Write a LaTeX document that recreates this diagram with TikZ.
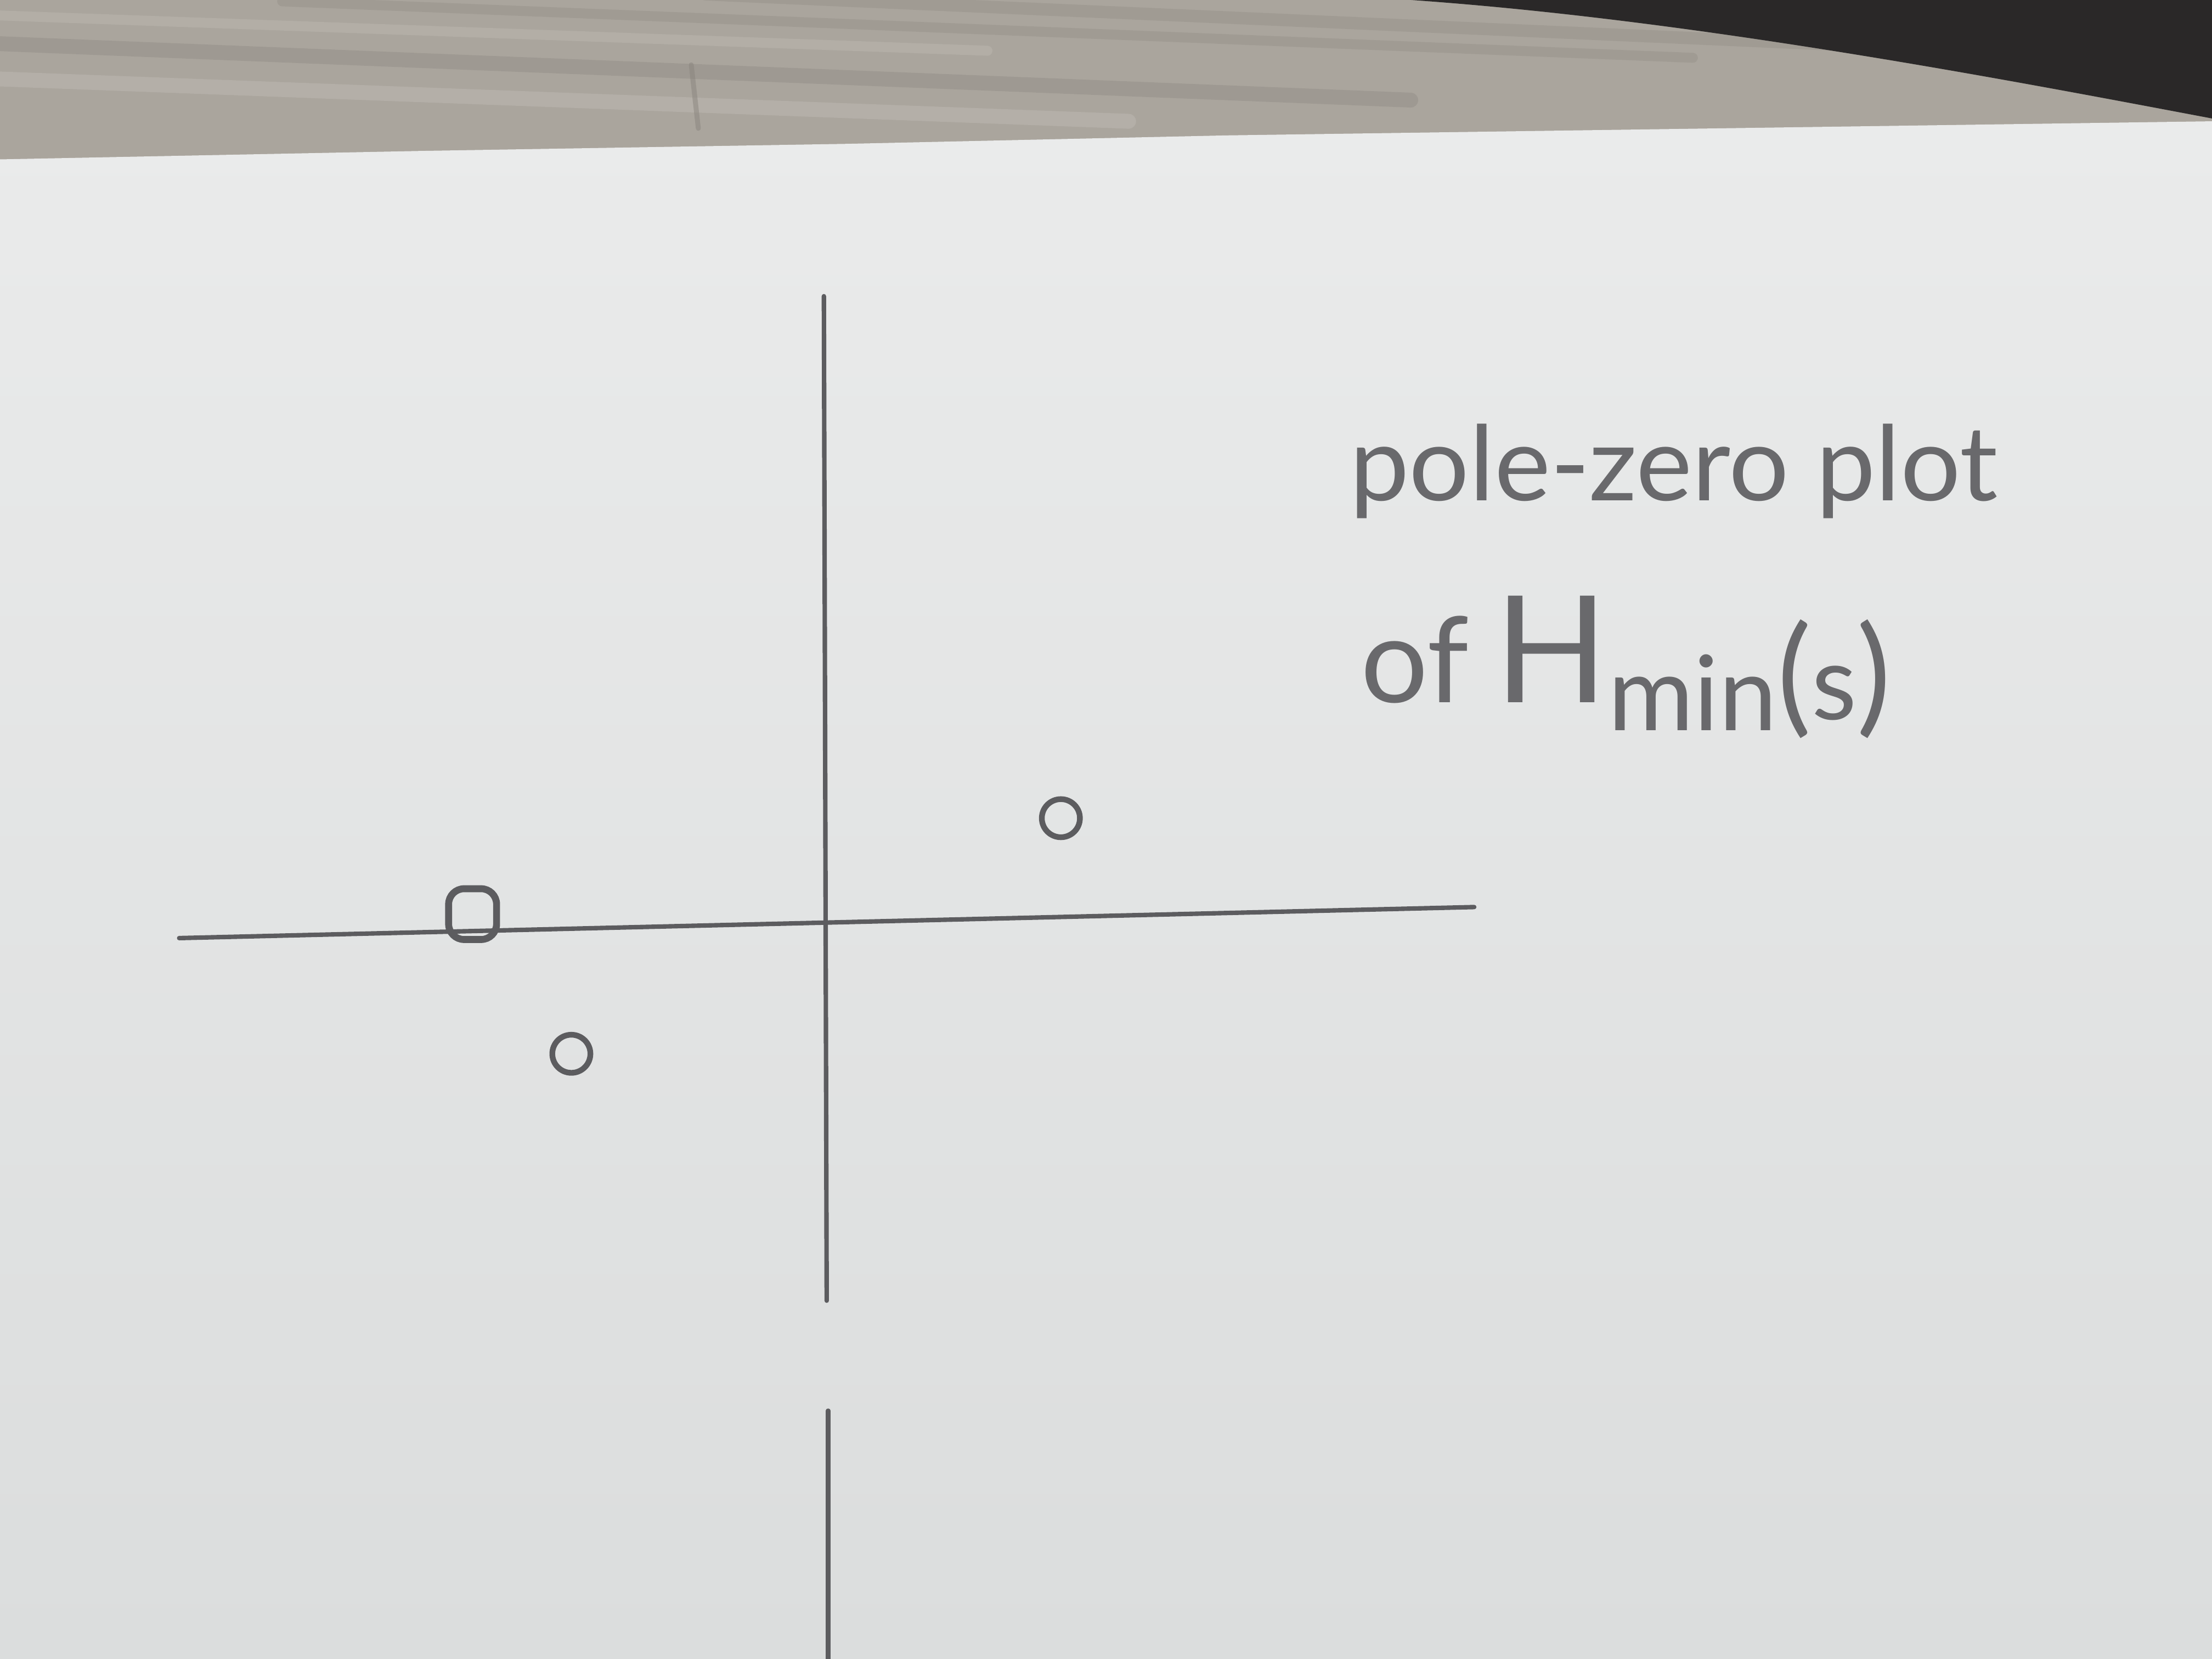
\documentclass[tikz,border=0pt]{standalone}
\usepackage{fontspec}
\newfontfamily\hand{Lato}
\definecolor{desk}{RGB}{170,165,157}
\definecolor{deskdark}{RGB}{138,133,126}
\definecolor{desklight}{RGB}{196,192,185}
\definecolor{corner}{RGB}{42,40,40}
\definecolor{paperA}{RGB}{234,235,235}
\definecolor{paperB}{RGB}{219,221,221}
\definecolor{pencil}{RGB}{92,92,95}
\definecolor{pencilt}{RGB}{105,105,108}
\begin{document}
\begin{tikzpicture}[x=1cm,y=1cm,
  axis/.style={draw=pencil,line width=0.9pt,line cap=round},
  polemark/.style={circle,draw=pencil,line width=1.15pt,inner sep=0pt,minimum size=#1},
  bigmark/.style={rectangle,rounded corners=0.11cm,draw=pencil,line width=1.4pt,inner sep=0pt,minimum width=0.34cm,minimum height=0.36cm},
  hw/.style={text=pencilt,font=\hand\fontsize{21}{25}\selectfont,inner sep=0pt,anchor=base west}]
\useasboundingbox (0,0) rectangle (15.68,11.76);
% desk
\fill[desk] (0,0) rectangle (15.68,11.76);
\begin{scope}[line cap=round]
\draw[deskdark,line width=3pt,opacity=0.35] (0,11.45) -- (10,11.05);
\draw[deskdark,line width=2pt,opacity=0.3] (2,11.75) -- (12,11.35);
\draw[desklight,line width=3pt,opacity=0.4] (0,11.2) -- (8,10.9);
\draw[deskdark,line width=2.5pt,opacity=0.3] (5,11.8) -- (14,11.4);
\draw[desklight,line width=2pt,opacity=0.35] (0,11.65) -- (7,11.4);
\draw[deskdark,line width=1pt,opacity=0.5] (4.9,11.3) -- (4.95,10.85);
\end{scope}
% dark corner
\fill[corner] (10,11.76) .. controls (12,11.62) and (14.2,11.2) .. (15.68,10.92) -- (15.68,11.76) -- cycle;
% paper
\shade[top color=paperA,bottom color=paperB] (0,0) -- (0,10.63) -- (3,10.69) -- (6,10.74) -- (8.7,10.8) -- (15.68,10.9) -- (15.68,0) -- cycle;
% axes
\coordinate (vtop) at (5.84,9.66);
\coordinate (vbot) at (5.86,2.54);
\coordinate (hleft) at (1.27,5.11);
\coordinate (hright) at (10.45,5.33);
\coordinate (ltop) at (5.87,1.76);
\coordinate (lbot) at (5.87,-0.05);
\draw[axis] (vtop) -- (vbot);
\draw[axis] (hleft) -- (hright);
\draw[axis] (ltop) -- (lbot);
% marks
\node[bigmark] (p1) at (3.35,5.28) {};
\node[polemark=0.27cm] (p2) at (4.05,4.29) {};
\node[polemark=0.27cm] (p3) at (7.52,5.96) {};
% text
\node[hw] (t1) at (9.56,8.21) {\scalebox{1.02}[1]{pole-zero plot}};
\node[hw] (t2) at (9.64,6.78) {{\fontsize{24}{24}\selectfont of}\hspace{0.25em}{\fontsize{30}{30}\selectfont H}\raisebox{-0.2cm}{min}\raisebox{-0.12cm}{{\fontsize{26}{26}\selectfont(}s{\fontsize{26}{26}\selectfont)}}};
\end{tikzpicture}
\end{document}
